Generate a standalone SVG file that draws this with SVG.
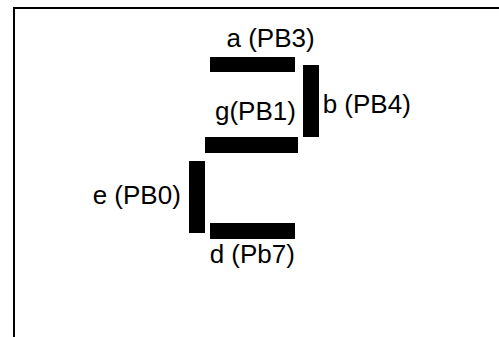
<svg xmlns="http://www.w3.org/2000/svg" width="499" height="337" viewBox="0 0 499 337">
  <style>
    .seg { fill: #000; }
    .lbl { font-family: "Liberation Sans", Arial, sans-serif; font-size: 26px; fill: #000; }
    .frame { fill: none; stroke: #000; stroke-width: 2; }
  </style>
  <rect width="499" height="337" fill="#fff"/>
  <!-- open frame: top and left edges -->
  <path class="frame" d="M14 337 V8 H499"/>

  <g id="seg-a">
    <rect class="seg" x="210" y="57" width="85" height="15"/>
    <text class="lbl" x="226.5" y="46.5">a (PB3)</text>
  </g>
  <g id="seg-b">
    <rect class="seg" x="303" y="65" width="16" height="72"/>
    <text class="lbl" x="322.7" y="112.5">b (PB4)</text>
  </g>
  <g id="seg-g">
    <rect class="seg" x="205" y="137" width="93" height="16"/>
    <text class="lbl" x="215" y="120">g(PB1)</text>
  </g>
  <g id="seg-e">
    <rect class="seg" x="189" y="161" width="16" height="72"/>
    <text class="lbl" x="92.7" y="204">e (PB0)</text>
  </g>
  <g id="seg-d">
    <rect class="seg" x="210" y="223" width="85" height="16"/>
    <text class="lbl" x="209.7" y="263">d (Pb7)</text>
  </g>
  <g id="connectors"/>
</svg>
